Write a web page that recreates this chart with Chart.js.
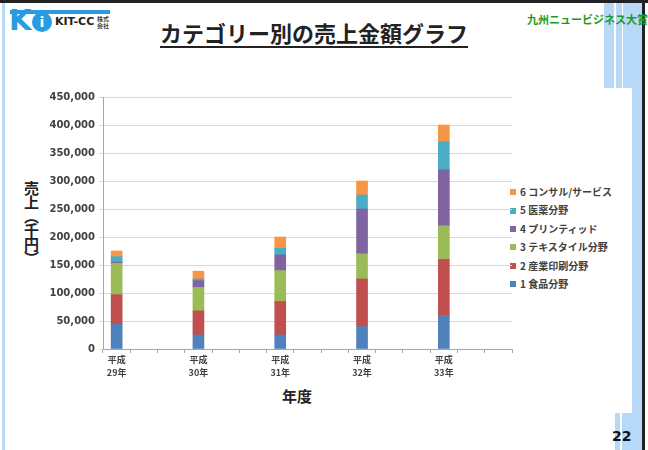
<!DOCTYPE html>
<html><head><meta charset="utf-8">
<script src="https://cdn.jsdelivr.net/npm/chart.js@4.4.1/dist/chart.umd.min.js"></script>
<style>
body{margin:0;width:648px;height:450px;overflow:hidden;background:#fff;position:relative;font-family:"Noto Sans CJK JP",sans-serif}
#c{position:absolute;left:0;top:0}
.abs{position:absolute}
#title{left:0;width:628px;top:16px;text-align:center;font-size:22px;font-weight:bold;color:#222;}
#title span{text-decoration:underline;text-underline-offset:4px;text-decoration-thickness:2px}
#award{left:527px;top:11px;font-size:11px;font-weight:bold;color:#1e9a1e;white-space:nowrap}
#ytitle{left:24px;top:181px;writing-mode:vertical-rl;text-orientation:mixed;font-size:15px;font-weight:bold;color:#222;letter-spacing:-1px;line-height:1}
#xtitle{left:270px;width:54px;text-align:center;top:385px;font-size:15px;font-weight:bold;color:#222}
#legend{left:510px;top:183px;font-size:10px;font-weight:bold;color:#404040}
#legend div{height:18.4px;line-height:18.4px;white-space:nowrap}
#legend i{display:inline-block;width:6px;height:6px;margin-right:4px;vertical-align:middle;position:relative;top:-1px}
#page{left:612px;top:428px;font-size:14px;font-weight:bold;color:#111;font-family:"DejaVu Sans",sans-serif}
</style></head><body>
<!-- decorative frame -->
<div class="abs" style="left:0;top:0;width:648px;height:3px;background:#222"></div>
<div class="abs" style="left:2px;top:3px;width:3px;height:447px;background:#b8d8f8"></div>
<div class="abs" style="left:642px;top:0;width:3px;height:450px;background:#222"></div>
<div class="abs" style="left:604px;top:3px;width:38px;height:85px;background:#b8d8f8"></div>
<div class="abs" style="left:614px;top:3px;width:2px;height:85px;background:#fff"></div>
<div class="abs" style="left:622px;top:3px;width:1px;height:85px;background:#fff"></div>
<div class="abs" style="left:632px;top:88px;width:10px;height:325px;background:#b8d8f8"></div>
<div class="abs" style="left:615px;top:413px;width:27px;height:37px;background:#b8d8f8"></div>
<div class="abs" style="left:620px;top:413px;width:2px;height:37px;background:#fff"></div>
<!-- logo -->
<div class="abs" style="left:10px;top:10px;width:100px;height:4px;background:#2a9be0"></div>
<div class="abs" style="left:9px;top:5px;font-family:'DejaVu Sans';font-weight:bold;font-size:29px;color:#2a9be0;line-height:30px">K</div>
<div class="abs" style="left:32px;top:12px;width:20px;height:20px;border-radius:50%;background:#2a9be0;color:#fff;text-align:center;font:bold 14px/20px 'DejaVu Sans'">i</div>
<div class="abs" style="left:55px;top:15px;font:bold 11px/14px 'DejaVu Sans';color:#222">KIT-CC</div>
<div class="abs" style="left:97px;top:15px;font:bold 6px/7px 'Noto Sans CJK JP';color:#444;width:13px;word-break:break-all">株式会社</div>

<div id="title" class="abs"><span>カテゴリー別の売上金額グラフ</span></div>
<div id="award" class="abs">九州ニュービジネス大賞</div>
<div id="ytitle" class="abs">売上（千円）</div>
<div id="xtitle" class="abs">年度</div>
<div id="legend" class="abs"></div>
<div id="page" class="abs">22</div>

<canvas id="c" width="648" height="450"></canvas>
<script>
// ---- data ----
const eraLabel = '平成';
const categories = ['29年', '30年', '31年', '32年', '33年'];
const seriesNames = ['1 食品分野', '2 産業印刷分野', '3 テキスタイル分野', '4 プリンティッド', '5 医薬分野', '6 コンサル/サービス'];
const seriesColors = ['#4F81BD', '#C0504D', '#9BBB59', '#8064A2', '#4BACC6', '#F79646'];
const food       = [44000, 25000, 25000, 40000, 60000];
const industrial = [53000, 43000, 60000, 85000, 100000];
const textile    = [56000, 42000, 55000, 45000, 60000];
const printed    = [2000, 12000, 28000, 80000, 100000];
const pharma     = [10000, 3000, 12000, 25000, 50000];
const consult    = [10000, 14000, 20000, 25000, 30000];
const yMax = 450000;
const yStep = 50000;

const seriesValues = [food, industrial, textile, printed, pharma, consult];
// each year occupies one category slot followed by two empty slots (as in the source sheet)
const slotsPerYear = 3;
const labels = [];
categories.forEach(c => { labels.push([eraLabel, c]); for (let k = 1; k < slotsPerYear; k++) labels.push(''); });
const spread = arr => { const out = []; arr.forEach(v => { out.push(v); for (let k = 1; k < slotsPerYear; k++) out.push(null); }); return out; };

const datasets = seriesNames.map((n, i) => ({
  label: n, data: spread(seriesValues[i]), backgroundColor: seriesColors[i],
  borderWidth: 0, barThickness: 11
}));

// HTML legend (reverse order, as in the reference)
const lg = document.getElementById('legend');
for (let i = seriesNames.length - 1; i >= 0; i--) {
  const d = document.createElement('div');
  d.innerHTML = '<i style="background:' + seriesColors[i] + '"></i>' + seriesNames[i];
  lg.appendChild(d);
}

new Chart(document.getElementById('c'), {
  type: 'bar',
  data: { labels, datasets },
  options: {
    responsive: false, animation: false,
    layout: { padding: { left: 40, top: 97, right: 136, bottom: 71 } },
    plugins: { legend: { display: false }, tooltip: { enabled: false } },
    scales: {
      x: {
        stacked: true,
        grid: { drawOnChartArea: false, offset: true, tickLength: 4, color: '#a6a6a6' },
        border: { color: '#a6a6a6' },
        ticks: { autoSkip: false, maxRotation: 0, padding: 1, color: '#404040',
                 font: { family: '"Noto Sans CJK JP"', size: 9, weight: 'bold', lineHeight: 1.35 } },
        afterFit(s) { s.height = 30; }
      },
      y: {
        stacked: true, min: 0, max: yMax,
        ticks: { stepSize: yStep, padding: 4, color: '#404040',
                 font: { family: '"DejaVu Sans"', size: 10, weight: 'bold' },
                 callback: v => v.toLocaleString('en-US') },
        grid: { color: '#d9d9d9', tickLength: 4 },
        border: { color: '#a6a6a6' },
        afterFit(s) { s.width = 63; }
      }
    }
  }
});
</script>
</body></html>
